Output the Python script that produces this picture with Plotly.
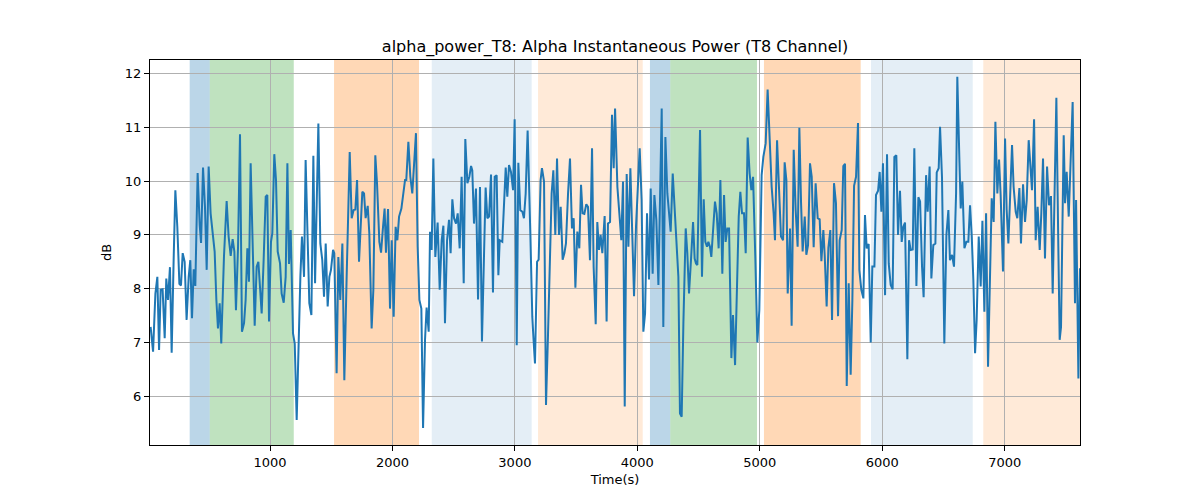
import plotly.graph_objects as go

time_s = [25, 45, 64, 80, 94, 107, 123, 140, 153, 167, 183, 197, 213, 227, 243, 260, 273, 287, 303, 319,
          336, 349, 363, 377, 390, 409, 426, 437, 453, 469, 483, 499, 515, 532, 548, 562, 575, 589, 602, 624,
          646, 662, 679, 695, 709, 722, 739, 755, 771, 788, 801, 815, 828, 842, 858, 875, 891, 905, 918, 932,
          948, 965, 978,
          992, 1008, 1019, 1035, 1049, 1063, 1082, 1095, 1112, 1128, 1142, 1155, 1169, 1188, 1202, 1218, 1231,
          1248, 1261, 1278, 1291, 1308, 1321, 1338, 1354, 1368, 1395, 1411, 1427, 1441, 1455, 1471, 1485, 1498,
          1515, 1525, 1544, 1558, 1574, 1591, 1607, 1626, 1651, 1667, 1683, 1697, 1711, 1727, 1754, 1768, 1781,
          1798, 1811, 1830, 1844, 1860, 1874, 1893, 1907, 1923, 1936,
          1947, 1964, 1980, 1994, 2010, 2026, 2040, 2054, 2073, 2089, 2103, 2113, 2130, 2146, 2162, 2192, 2206,
          2220, 2236, 2250, 2266, 2279, 2296, 2307, 2320, 2334, 2350, 2369, 2386, 2402, 2416, 2429, 2446, 2462,
          2475, 2489, 2503, 2519, 2533, 2549, 2565, 2582, 2595, 2612, 2628, 2642, 2652, 2666, 2682, 2699, 2715,
          2731, 2748, 2761, 2775, 2789, 2805, 2821, 2835, 2851, 2865, 2876,
          2897, 2925, 2938, 2952, 2968, 2985, 2998, 3015, 3028, 3044, 3061, 3074, 3088, 3104, 3126, 3142, 3153,
          3164, 3181, 3194, 3210, 3221, 3238, 3254, 3270, 3287, 3300, 3314, 3330, 3344, 3360, 3374, 3390, 3404,
          3417, 3434, 3450, 3466, 3480, 3494, 3510, 3526, 3540, 3553, 3567, 3583, 3597, 3613, 3630, 3643, 3660,
          3673, 3687, 3700, 3714, 3733, 3749, 3760, 3777, 3793, 3807, 3818,
          3837, 3853, 3869, 3883, 3897, 3913, 3927, 3943, 3959, 3973, 3989, 4005, 4019, 4035, 4049, 4063, 4079,
          4095, 4109, 4125, 4139, 4155, 4172, 4185, 4199, 4212, 4229, 4245, 4259, 4272, 4289, 4310, 4335, 4348,
          4362, 4376, 4395, 4408, 4422, 4438, 4455, 4468, 4479, 4490, 4512, 4528, 4542, 4555, 4569, 4580, 4593,
          4604, 4621, 4634, 4648, 4664, 4678, 4694, 4708, 4721, 4735, 4749,
          4768, 4781, 4798, 4814, 4828, 4841, 4855, 4871, 4885, 4901, 4917, 4931, 4945, 4964, 4980, 4996, 5015,
          5029, 5048, 5064, 5081, 5097, 5113, 5124, 5141, 5157, 5173, 5190, 5203, 5217, 5228, 5247, 5260, 5277,
          5293, 5309, 5323, 5337, 5350, 5367, 5380, 5394, 5410, 5424, 5440, 5456, 5473, 5489, 5503, 5519, 5530,
          5546, 5560, 5576, 5590, 5606, 5622, 5639, 5652, 5669, 5682, 5696,
          5710, 5726, 5742, 5756, 5770, 5786, 5802, 5813, 5829, 5846, 5859, 5873, 5889, 5906, 5919, 5936, 5949,
          5966, 5979, 5993, 6006, 6023, 6039, 6053, 6069, 6085, 6099, 6115, 6129, 6145, 6159, 6172, 6186, 6205,
          6219, 6232, 6249, 6262, 6279, 6295, 6309, 6325, 6338, 6358, 6371, 6387, 6401, 6417, 6434, 6445, 6461,
          6472, 6488, 6507, 6524, 6540, 6553, 6570, 6586, 6603, 6613, 6630,
          6641, 6654, 6671, 6687, 6703, 6717, 6731, 6744, 6758, 6771, 6788, 6804, 6818, 6834, 6848, 6864, 6880,
          6894, 6910, 6924, 6940, 6954, 6967, 6986, 7003, 7016, 7030, 7046, 7060, 7073, 7090, 7103, 7120, 7133,
          7150, 7166, 7180, 7196, 7210, 7223, 7240, 7253, 7269, 7286, 7299, 7313, 7329, 7346, 7362, 7378, 7392,
          7406, 7422, 7438, 7449, 7460, 7482, 7493, 7506, 7523, 7536, 7555, 7566, 7574, 7583, 7602, 7615]

power_db = [7.29, 6.83, 7.91, 8.22, 6.86, 7.98, 7.99, 7.08, 8.19, 7.79, 8.40, 6.81, 8.53, 9.83, 9.15, 8.09, 8.06,
            8.66, 8.50, 7.42, 8.22, 8.53, 7.45, 8.36, 8.05, 10.15, 9.18, 8.85, 10.25, 9.52, 8.35, 10.27, 9.40,
            9.03, 8.69, 7.79, 7.26, 7.73, 6.98, 8.59, 9.63, 8.97, 8.61, 8.92, 8.69, 7.60, 8.78, 10.87, 7.20,
            7.36, 7.79, 8.75, 8.13, 10.33, 8.78, 7.31, 8.41, 8.50, 8.04, 7.54, 8.53, 9.71, 9.74,
            7.39, 8.87, 9.03, 10.50, 10.02, 8.69, 8.47, 7.91, 7.74, 8.22, 10.33, 8.46, 9.09, 7.17, 6.98, 5.56,
            6.80, 8.22, 8.97, 8.22, 10.39, 9.03, 7.73, 7.51, 10.47, 8.10, 11.07, 8.84, 8.53, 7.85, 8.84, 7.67,
            8.22, 8.35, 8.72, 8.66, 6.43, 8.59, 7.79, 8.84, 6.30, 8.22, 10.54, 9.31, 9.46, 9.47, 10.02, 8.50,
            9.80, 9.77, 9.31, 9.54, 9.03, 7.26, 7.98, 10.48, 9.96, 8.87, 8.67, 9.15, 9.49,
            8.67, 9.48, 7.63, 8.90, 7.48, 9.15, 8.90, 9.34, 9.49, 9.77, 10.02, 10.02, 10.73, 10.08, 9.77, 10.89,
            8.78, 7.79, 7.63, 5.41, 7.05, 7.65, 7.20, 9.06, 8.72, 10.42, 8.59, 9.23, 7.98, 8.90, 9.17, 7.36,
            8.90, 9.28, 8.66, 9.66, 9.31, 9.21, 9.40, 8.75, 10.08, 8.10, 10.78, 9.96, 10.08, 10.28, 10.20, 9.21,
            9.86, 7.80, 9.89, 7.02, 9.03, 9.88, 9.31, 9.34, 10.12, 7.93, 10.08, 10.11, 8.25, 8.90,
            8.87, 10.25, 9.71, 10.30, 10.17, 9.83, 11.15, 6.95, 10.34, 9.46, 9.43, 9.31, 9.77, 10.94, 9.03, 7.48,
            7.02, 6.61, 8.50, 8.54, 10.02, 10.24, 9.99, 5.84, 7.11, 8.41, 9.77, 10.20, 9.00, 10.42, 9.00, 9.52,
            8.54, 8.66, 8.84, 9.77, 10.42, 9.12, 9.31, 8.02, 9.06, 8.75, 9.93, 9.40, 9.39, 9.57, 9.52, 8.53,
            10.61, 8.41, 7.34, 9.24, 8.72, 9.00, 8.66, 9.35, 7.39, 9.21, 9.24, 11.23, 10.24, 11.35,
            9.89, 9.40, 8.90, 9.99, 5.81, 10.13, 8.78, 10.24, 9.15, 7.86, 9.15, 10.02, 10.61, 9.65, 7.20, 7.54,
            9.40, 8.17, 9.86, 8.28, 9.74, 9.28, 8.07, 9.65, 11.35, 7.29, 10.82, 9.77, 9.34, 9.06, 10.14, 9.15,
            8.22, 5.68, 5.62, 7.36, 9.12, 8.66, 7.91, 8.53, 9.24, 8.56, 8.47, 8.44, 10.95, 8.22, 9.66, 8.87,
            8.78, 8.87, 8.78, 8.59, 9.09, 9.62, 9.40, 8.75, 10.02, 8.28, 9.74, 8.87, 9.12, 9.12,
            6.71, 7.51, 6.58, 8.04, 9.34, 9.80, 9.40, 9.40, 8.66, 10.81, 10.14, 9.83, 10.08, 8.53, 7.00, 7.60,
            10.11, 10.45, 10.70, 11.70, 10.82, 9.89, 9.40, 8.90, 10.76, 9.89, 8.97, 8.90, 10.35, 10.02, 7.91,
            9.12, 7.31, 10.58, 9.46, 8.78, 10.99, 9.59, 8.69, 9.34, 8.63, 8.81, 10.33, 10.08, 8.77, 9.96, 9.31,
            9.29, 8.51, 9.09, 8.63, 7.67, 8.76, 9.09, 7.42, 9.96, 9.59, 7.49, 8.90, 9.09, 10.28, 10.32,
            6.19, 8.10, 6.40, 7.79, 9.91, 10.08, 11.08, 8.35, 7.98, 7.82, 9.37, 8.75, 8.83, 7.00, 8.41, 8.41,
            9.74, 9.82, 10.17, 9.43, 10.33, 7.88, 10.50, 8.47, 8.07, 7.99, 10.45, 10.48, 9.00, 9.82, 8.87, 9.15,
            9.23, 6.69, 8.90, 8.72, 8.73, 10.61, 8.05, 9.70, 9.62, 8.41, 7.84, 10.11, 9.43, 10.27, 8.19, 8.81,
            8.84, 10.16, 10.24, 11.01, 10.07, 6.98, 9.00, 9.46, 8.53, 8.63, 8.41, 9.77, 11.94, 10.39,
            9.49, 9.99, 8.75, 8.87, 8.87, 9.55, 8.97, 8.16, 6.80, 7.42, 8.97, 8.04, 9.26, 7.57, 9.40, 6.55, 8.41,
            9.68, 9.24, 11.10, 9.77, 10.40, 9.74, 8.32, 10.79, 9.47, 8.84, 9.77, 10.67, 9.89, 9.43, 9.31, 9.87,
            8.84, 9.94, 9.24, 9.65, 10.76, 10.17, 9.83, 11.15, 8.90, 9.52, 8.72, 9.40, 10.42, 8.56, 10.27, 9.55,
            9.72, 7.91, 9.65, 11.55, 8.78, 7.05, 7.29, 10.85, 9.59, 10.17, 9.34, 10.14, 11.47, 9.28, 7.73, 9.65,
            6.33, 8.38]

# shaded intervals: start, end, colour
span_starts = [344, 508, 1523, 2321, 3189, 4103, 4269, 5034, 5908, 6825]
span_ends = [508, 1194, 2217, 3137, 4044, 4269, 4977, 5824, 6739, 7615]
span_colors = ["rgba(31,119,180,0.3)", "rgba(44,160,44,0.3)", "rgba(255,127,14,0.3)",
               "rgba(31,119,180,0.12)", "rgba(255,127,14,0.16)",
               "rgba(31,119,180,0.3)", "rgba(44,160,44,0.3)", "rgba(255,127,14,0.3)",
               "rgba(31,119,180,0.12)", "rgba(255,127,14,0.16)"]

x_ticks = [1000, 2000, 3000, 4000, 5000, 6000, 7000]
y_ticks = [6, 7, 8, 9, 10, 11, 12]

fig = go.Figure()
for s, e, c in zip(span_starts, span_ends, span_colors):
    fig.add_vrect(x0=s, x1=e, fillcolor=c, line_width=0, layer="below")

fig.add_trace(go.Scatter(x=time_s, y=power_db, mode="lines",
                         line=dict(color="#1f77b4", width=2), showlegend=False))

font = "DejaVu Sans"
fig.update_layout(
    width=1200, height=500,
    margin=dict(l=150, r=120, t=60, b=55),
    paper_bgcolor="white", plot_bgcolor="white",
    font=dict(family=font, size=13, color="black"),
    title=dict(text="alpha_power_T8: Alpha Instantaneous Power (T8 Channel)",
               x=0.5, xanchor="center", xref="paper", y=1 - 46 / 500, yanchor="middle",
               font=dict(family=font, size=16, color="black")),
    xaxis=dict(range=[20, 7615], tickvals=x_ticks, showgrid=True, gridcolor="#b0b0b0", gridwidth=1,
               showline=True, linecolor="black", linewidth=1, mirror=True,
               ticks="outside", ticklen=5, tickcolor="black", zeroline=False,
               title=dict(text="Time(s)", font=dict(family=font, size=13), standoff=6),
               tickfont=dict(family=font, size=13)),
    yaxis=dict(range=[5.095, 12.25], tickvals=y_ticks, showgrid=True, gridcolor="#b0b0b0", gridwidth=1,
               showline=True, linecolor="black", linewidth=1, mirror=True,
               ticks="outside", ticklen=5, tickcolor="black", zeroline=False,
               title=dict(text="dB", font=dict(family=font, size=13), standoff=10),
               tickfont=dict(family=font, size=13)),
)

fig.write_html("out.html")
